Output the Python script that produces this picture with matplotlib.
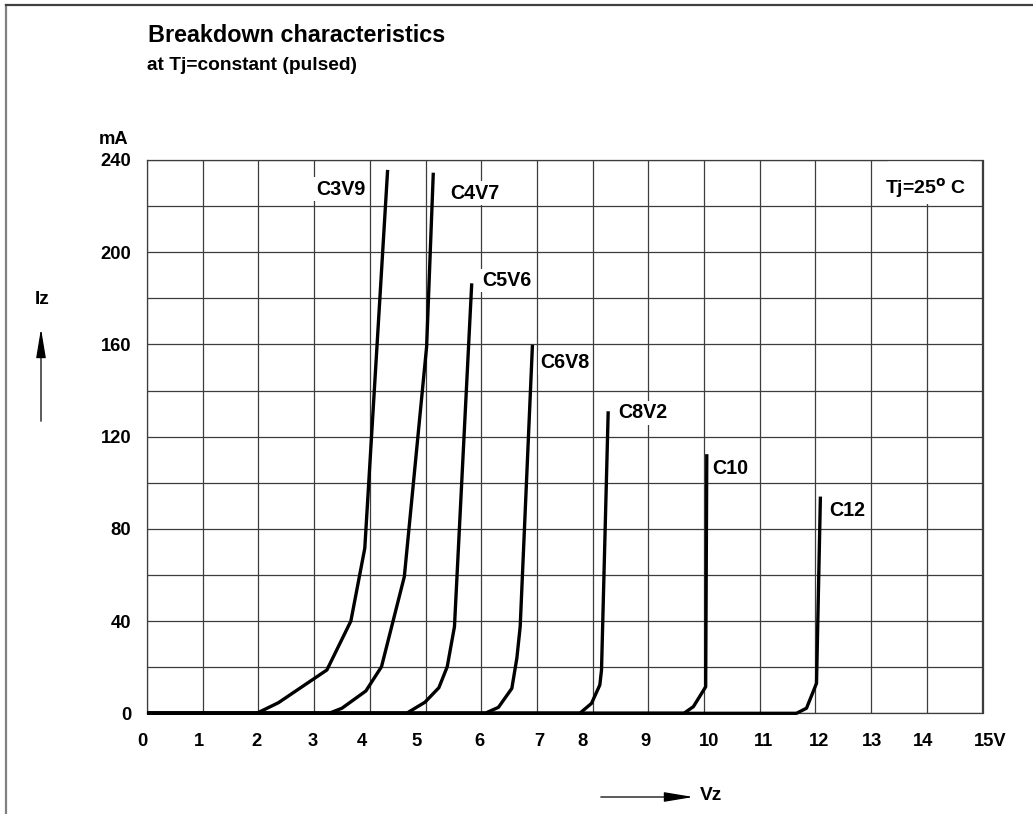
import matplotlib
matplotlib.use('Agg')
import matplotlib.pyplot as plt
from matplotlib.patches import Rectangle, FancyArrowPatch
from matplotlib.lines import Line2D

plt.rcParams['font.family'] = ['Liberation Sans', 'DejaVu Sans']
plt.rcParams['font.weight'] = 'bold'

# ---------------- data ----------------
series_names = ['C3V9', 'C4V7', 'C5V6', 'C6V8', 'C8V2', 'C10', 'C12']

v_c3v9 = [0, 1.97, 2.36, 3.23, 3.66, 3.91, 4.32]
i_c3v9 = [0, 0, 4.6, 18.8, 40.0, 71.6, 235.7]

v_c4v7 = [0, 3.27, 3.50, 3.93, 4.21, 4.62, 5.02, 5.14]
i_c4v7 = [0, 0, 2.2, 9.7, 20.2, 59.3, 159.0, 234.5]

v_c5v6 = [0, 4.66, 4.99, 5.24, 5.39, 5.52, 5.83]
i_c5v6 = [0, 0, 4.8, 11.1, 20.2, 37.6, 186.5]

v_c6v8 = [0, 6.07, 6.31, 6.55, 6.64, 6.70, 6.92]
i_c6v8 = [0, 0, 2.6, 10.8, 23.9, 37.6, 159.8]

v_c8v2 = [0, 7.77, 7.98, 8.13, 8.16, 8.28]
i_c8v2 = [0, 0, 4.3, 12.3, 18.8, 131.0]

v_c10 = [0, 9.64, 9.81, 10.03, 10.05]
i_c10 = [0, 0, 2.9, 11.5, 112.4]

v_c12 = [0, 11.66, 11.84, 12.02, 12.09]
i_c12 = [0, 0, 2.2, 13.0, 94.0]

x_tick_values = list(range(16))
x_tick_labels = ['0', '1', '2', '3', '4', '5', '6', '7', '8', '9',
                 '10', '11', '12', '13', '14', '15V']
y_grid_values = list(range(0, 241, 20))
y_tick_values = [0, 40, 80, 120, 160, 200, 240]
y_tick_labels = ['0', '40', '80', '120', '160', '200', '240']

# ---------------- layout ----------------
W, H = 1033, 814
fig = plt.figure(figsize=(W / 100, H / 100), dpi=100)
ax_left, ax_right, ax_top, ax_bottom = 147, 982.5, 160, 713.3
ax = fig.add_axes([ax_left / W, (H - ax_bottom) / H,
                   (ax_right - ax_left) / W, (ax_bottom - ax_top) / H])
ax.set_xlim(0, 15)
ax.set_ylim(0, 240)

grid_color = '#3c3c3c'
ax.vlines(x_tick_values, 0, 240, color=grid_color, lw=0.9, zorder=1)
ax.hlines(y_grid_values, 0, 15, color=grid_color, lw=0.9, zorder=1)
for s in ax.spines.values():
    s.set_color(grid_color)
    s.set_linewidth(0.9)

tick_fs = 13.2
ax.set_xticks([])
ax.set_yticks(y_tick_values)
ax.set_yticklabels(y_tick_labels, fontsize=tick_fs, fontweight='bold')
ax.tick_params(axis='y', length=0, pad=11.5)

# x tick labels (placed slightly irregularly, as in the scanned original)
x_label_pos = [-0.08, 0.94, 1.97, 2.97, 3.85, 4.84, 5.97, 7.05, 7.82, 8.95,
               10.09, 11.07, 12.06, 13.01, 13.94, 15.13]
for p, lab in zip(x_label_pos, x_tick_labels):
    ax.annotate(lab, xy=(p, 0), xycoords=('data', 'axes fraction'),
                xytext=(0, -20.5), textcoords='offset points',
                ha='center', va='center', fontsize=tick_fs, fontweight='bold')

ax.annotate('mA', xy=(0, 1), xycoords='axes fraction', xytext=(-13.5, 14.5),
            textcoords='offset points', ha='right', va='center',
            fontsize=tick_fs, fontweight='bold')

# curves
curves = [(v_c3v9, i_c3v9), (v_c4v7, i_c4v7), (v_c5v6, i_c5v6),
          (v_c6v8, i_c6v8), (v_c8v2, i_c8v2), (v_c10, i_c10), (v_c12, i_c12)]
for v, i in curves:
    ax.plot(v, i, color='black', lw=2.4, solid_joinstyle='round',
            solid_capstyle='butt', zorder=4, clip_on=False)

# curve labels
label_fs = 14.2
label_pos = [(3.03, 227.3), (5.45, 225.6), (6.01, 187.7), (7.06, 152.1),
             (8.46, 130.4), (10.14, 106.3), (12.25, 87.9)]
for name, (px, py) in zip(series_names, label_pos):
    ax.text(px, py, name, ha='left', va='center', fontsize=label_fs,
            fontweight='bold', zorder=5,
            bbox=dict(boxstyle='square,pad=0.12', fc='white', ec='none'))

# Tj label cell (gridline hidden behind it)
ax.add_patch(Rectangle((13.3, 220.8), 1.5, 19.0, facecolor='white',
                       edgecolor='none', zorder=2))
ax.text(13.25, 227.8, r'Tj=25$^{\mathbf{o}}$ C', ha='left', va='center',
        fontsize=14, fontweight='bold', zorder=5)

# titles
fig.text(148 / W, 1 - 35 / H, 'Breakdown characteristics', ha='left',
         va='center', fontsize=16.8, fontweight='bold')
fig.text(147 / W, 1 - 65 / H, 'at Tj=constant (pulsed)', ha='left',
         va='center', fontsize=13.8, fontweight='bold')

# axis names with arrows
fig.text(42 / W, 1 - 300 / H, 'Iz', ha='center', va='center',
         fontsize=13.8, fontweight='bold')
fig.add_artist(FancyArrowPatch((41 / W, 1 - 424 / H), (41 / W, 1 - 326 / H),
                               transform=fig.transFigure,
                               arrowstyle='-|>,head_length=1.8,head_width=0.3',
                               mutation_scale=10, color='black', lw=0.9))
fig.add_artist(FancyArrowPatch((598 / W, 1 - 797 / H), (696 / W, 1 - 797 / H),
                               transform=fig.transFigure,
                               arrowstyle='-|>,head_length=1.8,head_width=0.3',
                               mutation_scale=10, color='black', lw=0.9))
fig.text(700 / W, 1 - 796 / H, 'Vz', ha='left', va='center',
         fontsize=13.8, fontweight='bold')

# page border (left and top)
fig.add_artist(Line2D([5.5 / W, 5.5 / W], [0, 1 - 5 / H],
                      transform=fig.transFigure, color='#808080', lw=1.6))
fig.add_artist(Line2D([5.5 / W, 1], [1 - 5 / H, 1 - 5 / H],
                      transform=fig.transFigure, color='#404040', lw=1.6))

fig.savefig('out.png', dpi=100)
